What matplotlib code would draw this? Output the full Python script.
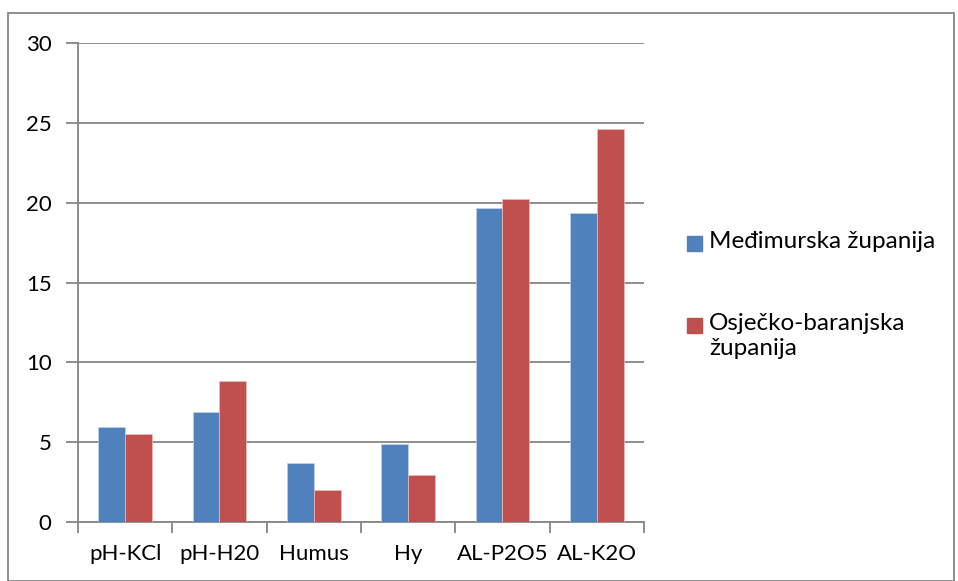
import numpy as np
import matplotlib.pyplot as plt
from matplotlib.patches import Rectangle

categories = ["pH-KCl", "pH-H20", "Humus", "Hy", "AL-P2O5", "AL-K2O"]
medimurska = [5.97, 6.87, 3.71, 4.86, 19.69, 19.33]
osjecko = [5.5, 8.82, 2.01, 2.94, 20.23, 24.64]
series_names = ["Međimurska županija", "Osječko-baranjska\nžupanija"]
colors = ["#4F81BD", "#C0504D"]

plt.rcParams['font.family'] = ['Lato', 'DejaVu Sans']


def main():
    fig = plt.figure(figsize=(9.58, 5.81), dpi=100)
    ax = fig.add_axes([0.0814, 0.1015, 0.5908, 0.8245])

    x = np.arange(len(categories))
    w = 0.285
    ax.bar(x - w / 2, medimurska, w, color=colors[0], zorder=3,
           edgecolor='#c5d3e8', linewidth=0.5)
    ax.bar(x + w / 2, osjecko, w, color=colors[1], zorder=3,
           edgecolor='#e8c0bf', linewidth=0.5)

    ax.set_xlim(-0.5, len(categories) - 0.5)
    ax.set_ylim(0, 30)
    ax.set_yticks(np.arange(0, 31, 5))
    ax.yaxis.grid(True, color='#868686', linewidth=1.3, zorder=0)

    # ticks on category boundaries, labels in the middle
    ax.set_xticks(np.arange(-0.5, len(categories), 1.0))
    ax.set_xticklabels([])
    ax.set_xticks(x, minor=True)
    ax.set_xticklabels(categories, minor=True)
    ax.tick_params(axis='x', which='minor', length=0, pad=16, labelsize=16)
    ax.tick_params(axis='x', which='major', length=8, width=1.3, color='#868686')
    ax.tick_params(axis='y', length=9, width=1.3, color='#868686', labelsize=16, pad=10)

    for s in ['top', 'right']:
        ax.spines[s].set_visible(False)
    for s in ['left', 'bottom']:
        ax.spines[s].set_color('#868686')
        ax.spines[s].set_linewidth(1.3)

    # legend drawn by hand to put the square next to the first line
    W, H = 958.0, 581.0
    ypos = [244, 326]
    for c, name, yp in zip(colors, series_names, ypos):
        fig.add_artist(Rectangle((687 / W, 1 - (yp + 7) / H), 15 / W, 15 / H,
                                 transform=fig.transFigure, color=c))
        fig.text(709 / W, 1 - (yp - 13) / H, name, fontsize=17.5, va='top',
                 ha='left', linespacing=1.25)

    # chart border
    fig.add_artist(Rectangle((8 / W, 0.0), 946 / W, 1 - 13 / H,
                             transform=fig.transFigure, fill=False,
                             edgecolor='#868686', linewidth=1.3))

    fig.savefig("out.png", dpi=100)


if __name__ == "__main__":
    main()
